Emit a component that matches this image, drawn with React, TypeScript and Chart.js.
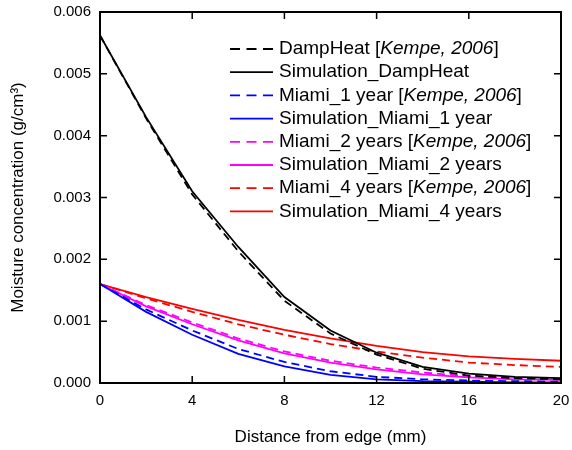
import React, { useEffect, useRef } from "react";
import { Chart, registerables } from "chart.js";

Chart.register(...registerables);

// Distance from edge (mm)
const distances = [0, 2, 4, 6, 8, 10, 12, 14, 16, 18, 20];

// Moisture concentration (g/cm3)
const dampHeatKempe = [0.00562, 0.00428, 0.00305, 0.00213, 0.00133, 0.0008, 0.00046, 0.00023, 0.00012, 0.00008, 0.00006];
const dampHeatSim = [0.00562, 0.0043, 0.0031, 0.0022, 0.00139, 0.00085, 0.00049, 0.00026, 0.00015, 0.0001, 0.00008];
const miami1Kempe = [0.0016, 0.00119, 0.00085, 0.00055, 0.00034, 0.00019, 0.0001, 0.00006, 0.00004, 0.00003, 0.00002];
const miami1Sim = [0.0016, 0.00115, 0.00078, 0.00047, 0.00027, 0.00013, 0.00006, 0.00003, 0.00002, 0.00001, 0.00001];
const miami2Kempe = [0.0016, 0.00126, 0.00098, 0.00072, 0.00051, 0.00036, 0.00025, 0.00017, 0.00011, 0.00008, 0.00006];
const miami2Sim = [0.0016, 0.00124, 0.00095, 0.00069, 0.00048, 0.00033, 0.00022, 0.00014, 0.00009, 0.00006, 0.00005];
const miami4Kempe = [0.0016, 0.00137, 0.00115, 0.00095, 0.00078, 0.00063, 0.00051, 0.00041, 0.00033, 0.00029, 0.00026];
const miami4Sim = [0.0016, 0.00139, 0.0012, 0.00102, 0.00086, 0.00072, 0.0006, 0.0005, 0.00043, 0.00039, 0.00036];

const xTickValues = [0, 4, 8, 12, 16, 20];
const yTickValues = [0, 0.001, 0.002, 0.003, 0.004, 0.005, 0.006];

const seriesLabels = [
  ["DampHeat [", "Kempe, 2006", "]"],
  ["Simulation_DampHeat", "", ""],
  ["Miami_1 year [", "Kempe, 2006", "]"],
  ["Simulation_Miami_1 year", "", ""],
  ["Miami_2 years [", "Kempe, 2006", "]"],
  ["Simulation_Miami_2 years", "", ""],
  ["Miami_4 years [", "Kempe, 2006", "]"],
  ["Simulation_Miami_4 years", "", ""],
];
const seriesValues = [dampHeatKempe, dampHeatSim, miami1Kempe, miami1Sim, miami2Kempe, miami2Sim, miami4Kempe, miami4Sim];
const seriesColors = ["#000000", "#000000", "#0000ff", "#0000ff", "#ff00ff", "#ff00ff", "#ff0000", "#ff0000"];
const seriesDashed = [true, false, true, false, true, false, true, false];

const FONT = "'Liberation Sans', Arial, sans-serif";

const framePlugin = {
  id: "frameAndLegend",
  afterDraw(chart: any) {
    const { ctx, chartArea } = chart;
    const { left, right, top, bottom } = chartArea;
    const xs = chart.scales.x;
    const ys = chart.scales.y;
    ctx.save();
    // frame
    ctx.strokeStyle = "#000";
    ctx.lineWidth = 2;
    ctx.setLineDash([]);
    ctx.strokeRect(left, top, right - left, bottom - top);
    // inward ticks
    const tl = 7;
    ctx.lineWidth = 1.5;
    ctx.beginPath();
    xTickValues.forEach((v) => {
      const px = xs.getPixelForValue(v);
      ctx.moveTo(px, bottom);
      ctx.lineTo(px, bottom - tl);
      ctx.moveTo(px, top);
      ctx.lineTo(px, top + tl);
    });
    yTickValues.forEach((v) => {
      const py = ys.getPixelForValue(v);
      ctx.moveTo(left, py);
      ctx.lineTo(left + tl, py);
      ctx.moveTo(right, py);
      ctx.lineTo(right - tl, py);
    });
    ctx.stroke();

    // axis titles
    ctx.fillStyle = "#000";
    ctx.font = `17px ${FONT}`;
    ctx.textAlign = "center";
    ctx.textBaseline = "middle";
    ctx.fillText("Distance from edge (mm)", (left + right) / 2, 437);
    ctx.save();
    ctx.translate(18, (top + bottom) / 2);
    ctx.rotate(-Math.PI / 2);
    ctx.fillText("Moisture concentration (g/cm\u00B3)", 0, 0);
    ctx.restore();

    // legend
    const lx0 = left + 130;
    const lx1 = left + 173;
    const tx = left + 179;
    ctx.textAlign = "left";
    ctx.textBaseline = "middle";
    seriesLabels.forEach((parts, i) => {
      const y = top + 37 + 23.2 * i;
      ctx.strokeStyle = seriesColors[i];
      ctx.lineWidth = 1.8;
      ctx.setLineDash(seriesDashed[i] ? [10, 6.5] : []);
      ctx.beginPath();
      ctx.moveTo(lx0, y);
      ctx.lineTo(lx1, y);
      ctx.stroke();
      ctx.setLineDash([]);
      ctx.fillStyle = "#000";
      let x = tx;
      ctx.font = `19px ${FONT}`;
      ctx.fillText(parts[0], x, y);
      x += ctx.measureText(parts[0]).width;
      if (parts[1]) {
        ctx.font = `italic 19px ${FONT}`;
        ctx.fillText(parts[1], x, y);
        x += ctx.measureText(parts[1]).width;
        ctx.font = `19px ${FONT}`;
        ctx.fillText(parts[2], x, y);
      }
    });
    ctx.restore();
  },
};

export default function App() {
  const ref = useRef<HTMLCanvasElement>(null);
  useEffect(() => {
    if (!ref.current) return;
    const datasets = seriesValues.map((vals, i) => ({
      label: seriesLabels[i].join(""),
      data: distances.map((d, j) => ({ x: d, y: vals[j] })),
      borderColor: seriesColors[i],
      backgroundColor: seriesColors[i],
      borderWidth: 1.8,
      borderDash: seriesDashed[i] ? [8, 5] : [],
      pointRadius: 0,
      tension: 0,
      fill: false,
    }));
    const chart = new Chart(ref.current, {
      type: "line",
      data: { datasets },
      options: {
        responsive: false,
        animation: false,
        devicePixelRatio: 1,
        layout: { padding: { left: 0, top: 12, right: 11, bottom: 0 } },
        plugins: { legend: { display: false }, tooltip: { enabled: false } },
        scales: {
          x: {
            type: "linear",
            min: 0,
            max: 20,
            afterFit: (s: any) => {
              s.height = 67;
              s.paddingLeft = 0;
              s.paddingRight = 0;
            },
            afterBuildTicks: (s: any) => { s.ticks = xTickValues.map((v) => ({ value: v })); },
            grid: { display: false, drawTicks: false },
            border: { display: false },
            ticks: { padding: 9, color: "#000", font: { family: FONT, size: 15 }, maxRotation: 0 },
          },
          y: {
            type: "linear",
            min: 0,
            max: 0.006,
            afterFit: (s: any) => {
              s.width = 100;
              s.paddingTop = 0;
              s.paddingBottom = 0;
            },
            afterBuildTicks: (s: any) => { s.ticks = yTickValues.map((v) => ({ value: v })); },
            grid: { display: false, drawTicks: false },
            border: { display: false },
            ticks: {
              padding: 9,
              color: "#000",
              font: { family: FONT, size: 15 },
              callback: (v: any) => Number(v).toFixed(3),
            },
          },
        },
      },
      plugins: [framePlugin],
    });
    return () => chart.destroy();
  }, []);
  return (
    <div style={{ position: "absolute", left: 0, top: 0, width: 572, height: 450, background: "#fff" }}>
      <canvas ref={ref} width={572} height={450} style={{ display: "block" }} />
    </div>
  );
}
